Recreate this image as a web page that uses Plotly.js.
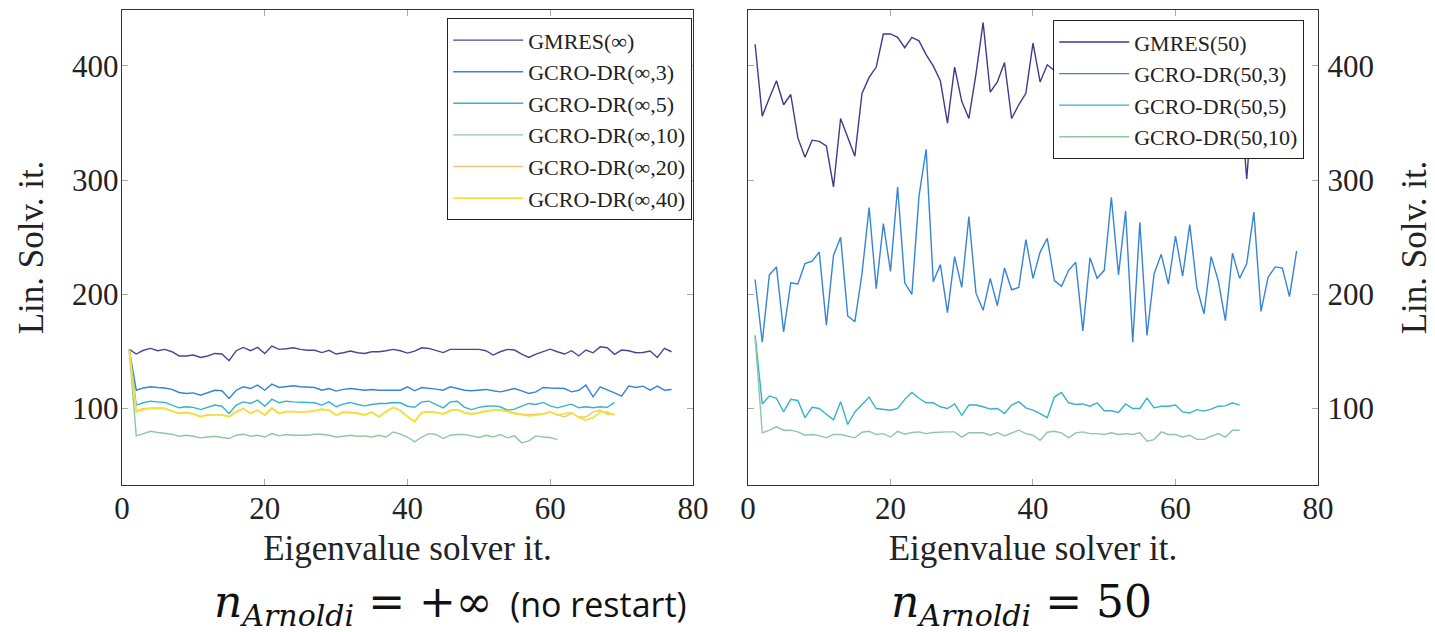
<!DOCTYPE html>
<html>
<head>
<meta charset="utf-8">
<script src="https://cdn.plot.ly/plotly-3.0.1.min.js"></script>
<style>html,body{margin:0;padding:0;background:#fff;}#chart{width:1435px;height:632px;}</style>
</head>
<body>
<div id="chart"></div>
<script>
// ---------- Left panel: n_Arnoldi = +inf (no restart) ----------
const gmresInf = [152,147.7,151,152.6,150.6,151.8,149.7,146,146,146.8,144.7,146,148.2,147.7,141.8,150.6,153.5,150.6,153.5,148.2,154.7,151.8,152.3,153.2,151.8,151,151,149,151,147.7,148.8,150.3,148.8,148.2,149.7,149.7,150.6,151.8,150.6,148.5,150.3,153.2,152.6,150.6,149,151.8,152,152,151.8,151.8,150.6,146.8,149.7,151.8,151.2,147.7,144.7,147.7,149.7,152,149.7,147.7,150.6,146,151.2,148.8,154,153.2,147.4,151.2,150.6,148.8,149,150.3,144.7,152.6,149.7];
const gcroInf3 = [152,116,118,119,118.4,118,116.7,114,113.2,113.7,111.7,113.7,116,115.5,108.8,116,119,117.5,120.5,116,121.3,118.4,119,119.9,119,118.4,118.4,116,117.5,115.2,116.7,117.5,116.7,116,116.7,116,116,116,116,119,115.5,118.4,118,117,116,119,117.5,116,115.5,116,116.7,115.5,114.6,116,117.5,115.5,113.2,114.6,118.4,118,117.5,117.5,114.6,116,120.5,110.2,119,116.7,113.7,110.8,119.6,118.4,119.6,116,119.6,116,116.7];
const gcroInf5 = [152,103,105,106.4,105.8,105.3,103,100.6,101.5,101,99,101,103,102,95.6,103,105.8,104.4,107.3,102,108.2,105,106.4,105.8,105.8,105.3,105,103,105.8,101.5,103.8,105.3,103.5,102.3,103.5,104.4,104.4,105.3,105,102,101,105.8,106.4,103.5,100.6,105.8,106.4,101,99,101,102,102.3,101.5,98.5,99.4,102,104.4,103.5,105.3,102.3,100.6,102.3,103.8,100.6,101.5,100.6,101.5,101,105.3];
const gcroInf10 = [152,76,78,80,79,78,77.5,75.7,76.6,75.7,74.3,75,75.7,74.6,73.7,76.6,77.5,75.7,76.6,75,78,76,77.2,76.6,76.6,76.6,77.5,77.5,76.6,75,75.7,76.6,75.7,76,75,76.6,75,79.5,77.5,75,70.8,75,78,77.2,73.7,76.6,77.2,77.2,76,74.6,76.6,75,77.2,74.3,76,69.9,71.6,76,75,74.6,72.8];
const gcroInf20 = [152,98,100,100.5,100.5,100,97.5,96,96.5,95.5,93,94.5,94,94.5,93,97.5,100,96,98.5,94.5,100.5,96,97.5,97.5,97,97.5,98,99.5,98.5,94.5,97,96.5,96,94.5,97,93,97.5,101,98.5,93,89,96.5,97.5,96.5,95.5,98.5,99,96.5,95.5,96.5,98,98.5,98.5,97.5,96,95,94.5,95,95.5,97,95,92.5,96,92.5,92.5,97,98.5,95,95];
const gcroInf40 = [152,97,99,100,100,100,98,95.6,96.2,95,92.7,94.2,94.2,94.2,92.7,97,100,95.6,98.5,94.2,100,95.6,97,97,97,97,98,99,98.5,94.2,96.5,96.5,95.6,94.2,96.5,92.7,97,100.9,98,92.7,88.3,96.2,97,96.5,95,98,99,96.2,95,96.2,97.7,98.5,99,97,95.6,94.7,93.6,94.2,95,97,94.2,95.6,96.2,92,89.8,92,96.8,97,94.2];

// ---------- Right panel: n_Arnoldi = 50 ----------
const gmres50 = [419,356,372,387,366,375,337,320,335,334,330,294,354,337,321,376,390,399,428,428,425,416,425,422,410,400,387,350,399,369,354,393,438,377,386,403,354,366,376,420,386,401,396,380,405,372,395,410,385,360,398,415,378,392,420,370,388,402,365,395,410,380,372,400,388,415,375,392,380,301,385,400,372,395,410,380,390];
const gcro50_3 = [213,158,217,224,167,210,209,227,229,237,173,234,250,181,176,218,276,205,262,220,294,210,200,286,327,211,226,184,233,206,268,201,186,214,190,223,204,206,248,214,237,249,212,207,221,228,168,232,214,221,285,217,273,158,263,164,218,235,209,251,216,261,206,183,233,212,177,236,214,227,272,185,215,224,223,198,238];
const gcro50_5 = [164,104,111,109,97,108,107,92,101,100,95,90,106,86,97,103.5,110,100,99,98.5,100,108,114,109,105,105,101.5,100,104,94,103,103,101.5,99.5,100,95.6,103,106,100.6,98.5,95.6,92,110,114,105,103.5,104,102,105,98,98,96.5,104,100,100,109,100.6,102,102,103,97,96,99,97.7,99.4,102,102.3,105,103];
const gcro50_10 = [162,78.7,81,84,81,81,79.5,76.6,77.2,76.3,74.3,77.2,77.2,76,74.3,79.2,80,77.2,78,75,80,77.5,79,79.5,78,79,79.5,79.5,79.5,75,78.7,78.7,78.7,76.6,79,76,78.7,81,78,76.6,72.2,79.2,80,78.7,74.3,78.7,79.5,78,78,77.2,78.7,77.2,78,77.2,78.7,71.3,72.8,79.5,77.2,77.2,75,76.6,73,73,75.7,78,75,81,81];

const namesLeft = ['GMRES(\u221e)','GCRO-DR(\u221e,3)','GCRO-DR(\u221e,5)','GCRO-DR(\u221e,10)','GCRO-DR(\u221e,20)','GCRO-DR(\u221e,40)'];
const namesRight = ['GMRES(50)','GCRO-DR(50,3)','GCRO-DR(50,5)','GCRO-DR(50,10)'];
const colorsLeft = ['#4b4593','#3584d8','#35b3c8','#8dc9a0','#f0c27e','#f2e43a'];
const colorsRight = ['#3f3a8c','#3584d8','#35b3c8','#8dc9a0'];
const tickVals = [0,20,40,60,80];
const yTickVals = [100,200,300,400];

const iters = v => v.map((_, i) => i + 1);

const leftSeries = [gmresInf,gcroInf3,gcroInf5,gcroInf10,gcroInf20,gcroInf40];
const rightSeries = [gmres50,gcro50_3,gcro50_5,gcro50_10];

const traces = [];
leftSeries.forEach((s, i) => {
  traces.push({x: iters(s), y: s, type:'scatter', mode:'lines', name: namesLeft[i],
    line:{color: colorsLeft[i], width: i === 5 ? 1.8 : 1.4}, xaxis:'x', yaxis:'y', legend:'legend', hoverinfo:'skip'});
});
rightSeries.forEach((s, i) => {
  traces.push({x: iters(s), y: s, type:'scatter', mode:'lines', name: namesRight[i],
    line:{color: colorsRight[i], width:1.4}, xaxis:'x2', yaxis:'y2', legend:'legend2', hoverinfo:'skip'});
});

const serif = 'Liberation Serif, Times New Roman, serif';
const axisCommon = {
  showline:true, linecolor:'#333', linewidth:1.2, mirror:'allticks',
  ticks:'inside', ticklen:6, tickcolor:'#aaa', tickwidth:1,
  showgrid:false, zeroline:false, ticklabelstandoff:-4,
  tickfont:{family:serif, size:31, color:'#222'}
};

const legendCommon = {
  bgcolor:'#fff', bordercolor:'#222', borderwidth:1.2,
  font:{family:serif, size:22, color:'#222'},
  yanchor:'top', xanchor:'right', itemwidth:70, traceorder:'normal',
  itemclick:false, itemdoubleclick:false
};

const ital = (t, sz) => '<span style="font-style:italic;font-size:' + sz + 'px">' + t + '</span>';
const sans = t => '<span style="font-family:\'Open Sans\';font-size:34px">' + t + '</span>';
const labelFont = {family:'DejaVu Serif, serif', size:44, color:'#111'};

const layout = {
  width:1435, height:632,
  margin:{l:122, r:117, t:10, b:147, pad:0},
  paper_bgcolor:'#fff', plot_bgcolor:'#fff',
  showlegend:true,
  font:{family:serif, color:'#222'},
  xaxis:Object.assign({}, axisCommon, {domain:[0,0.4774], range:[0,80], tickvals:tickVals, anchor:'y',
    title:{text:'Eigenvalue solver it.', font:{family:serif, size:35, color:'#222'}, standoff:10}}),
  yaxis:Object.assign({}, axisCommon, {range:[33,449], tickvals:yTickVals, anchor:'x',
    title:{text:'Lin. Solv. it.', font:{family:serif, size:35, color:'#222'}, standoff:17}}),
  xaxis2:Object.assign({}, axisCommon, {domain:[0.5234,1], range:[0,80], tickvals:tickVals, anchor:'y2',
    title:{text:'Eigenvalue solver it.', font:{family:serif, size:35, color:'#222'}, standoff:10}}),
  yaxis2:Object.assign({}, axisCommon, {range:[33,449], tickvals:yTickVals, anchor:'x2', side:'right', ticklabelstandoff:2,
    title:{text:'Lin. Solv. it.', font:{family:serif, size:35, color:'#222'}, standoff:28}}),
  legend:Object.assign({}, legendCommon, {x:0.4766, y:0.983}),
  legend2:Object.assign({}, legendCommon, {x:0.9883, y:0.979}),
  annotations:[
    {xref:'paper', yref:'paper', x:0.2745, y:-0.252, xanchor:'center', yanchor:'middle', showarrow:false,
     text: '<i>n</i><sub>' + ital('Arnoldi', 30) + '</sub> = +\u221e' + sans('\u00a0\u00a0(no restart)'),
     font:labelFont},
    {xref:'paper', yref:'paper', x:0.7525, y:-0.252, xanchor:'center', yanchor:'middle', showarrow:false,
     text: '<i>n</i><sub>' + ital('Arnoldi', 30) + '</sub> = 50',
     font:labelFont}
  ]
};

Plotly.newPlot('chart', traces, layout, {displayModeBar:false, staticPlot:true});
</script>
</body>
</html>
